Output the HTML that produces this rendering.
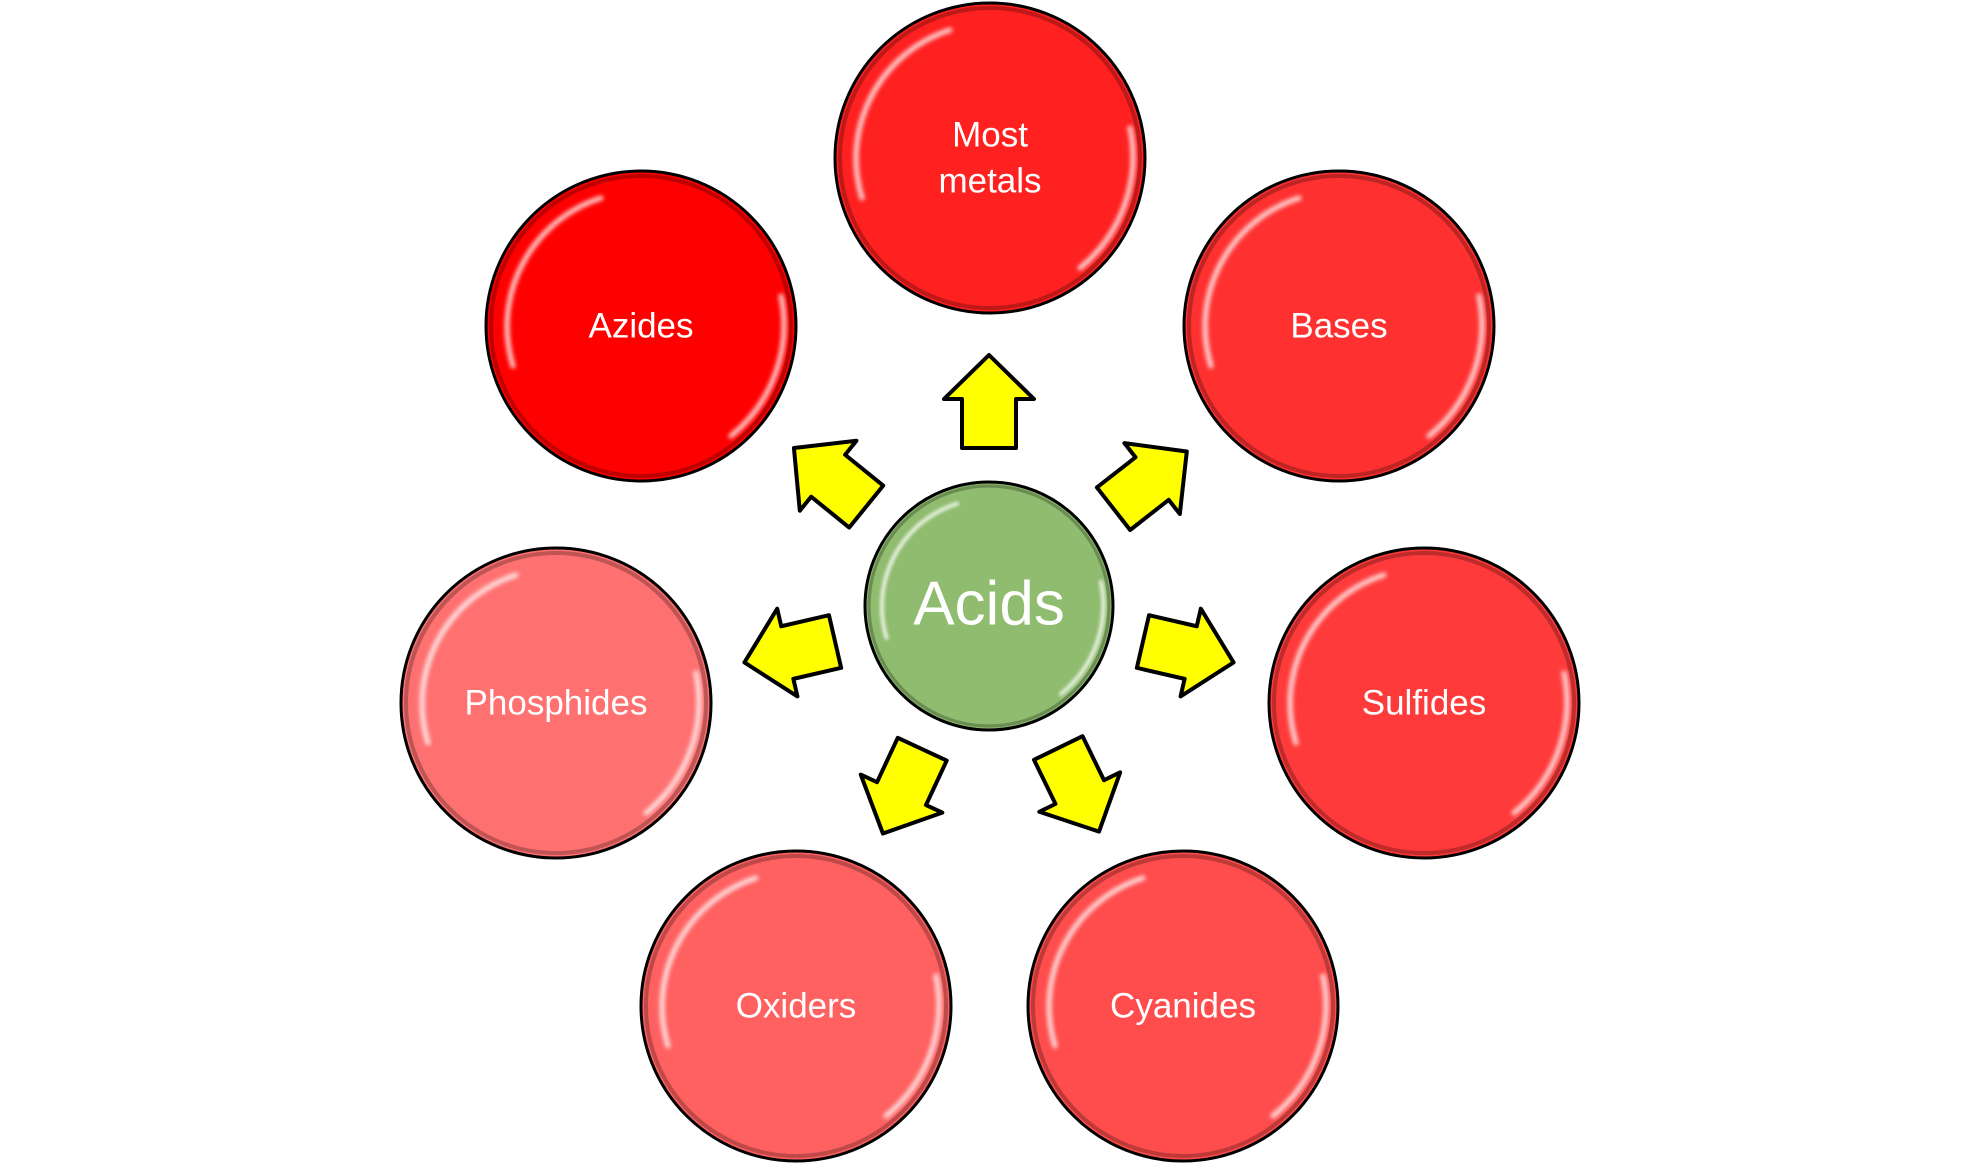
<!DOCTYPE html>
<html><head><meta charset="utf-8"><style>
html,body{margin:0;padding:0;background:#fff;}
svg{display:block;}
text{font-family:"Liberation Sans",sans-serif;fill:#fff;text-anchor:middle;dominant-baseline:central;}
</style></head><body>
<svg width="1980" height="1165" viewBox="0 0 1980 1165" xmlns="http://www.w3.org/2000/svg">
<defs>
<filter id="bl" x="-20%" y="-20%" width="140%" height="140%"><feGaussianBlur stdDeviation="2"/></filter>
<g id="hl">
<path d="M -128 40 A 135 135 0 0 1 -40 -128" fill="none" stroke="#fff" stroke-width="5" stroke-linecap="round" opacity="0.8" filter="url(#bl)"/>
<path d="M 140 -30 A 143 143 0 0 1 90 110" fill="none" stroke="#fff" stroke-width="5" stroke-linecap="round" opacity="0.8" filter="url(#bl)"/>
<circle r="150" fill="none" stroke="#000" stroke-opacity="0.25" stroke-width="4"/>
</g>
<path id="arr" d="M0 -251 L45 -207 L27 -207 L27 -158 L-27 -158 L-27 -207 L-45 -207 Z" fill="#ffff00" stroke="#000" stroke-width="4" stroke-linejoin="round"/>
</defs>

<g transform="translate(989,606)">
<use href="#arr"/>
<use href="#arr" transform="rotate(52)"/>
<use href="#arr" transform="rotate(103)"/>
<use href="#arr" transform="rotate(154)"/>
<use href="#arr" transform="rotate(-155)"/>
<use href="#arr" transform="rotate(-103)"/>
<use href="#arr" transform="rotate(-51)"/>
</g>

<g transform="translate(990,158)"><circle r="155" fill="#ff2020" stroke="#000" stroke-width="3"/><use href="#hl"/>
<text y="-23" font-size="35">Most</text><text y="23" font-size="35">metals</text></g>
<g transform="translate(641,326)"><circle r="155" fill="#ff0000" stroke="#000" stroke-width="3"/><use href="#hl"/><text font-size="35">Azides</text></g>
<g transform="translate(1339,326)"><circle r="155" fill="#ff3030" stroke="#000" stroke-width="3"/><use href="#hl"/><text font-size="35">Bases</text></g>
<g transform="translate(556,703)"><circle r="155" fill="#ff7070" stroke="#000" stroke-width="3"/><use href="#hl"/><text font-size="35">Phosphides</text></g>
<g transform="translate(1424,703)"><circle r="155" fill="#ff3a3a" stroke="#000" stroke-width="3"/><use href="#hl"/><text font-size="35">Sulfides</text></g>
<g transform="translate(796,1006)"><circle r="155" fill="#ff6060" stroke="#000" stroke-width="3"/><use href="#hl"/><text font-size="35">Oxiders</text></g>
<g transform="translate(1183,1006)"><circle r="155" fill="#ff4c4c" stroke="#000" stroke-width="3"/><use href="#hl"/><text font-size="35">Cyanides</text></g>

<g transform="translate(989,606)"><circle r="124" fill="#8fbc6e" stroke="#000" stroke-width="3"/>
<g transform="scale(0.8)"><use href="#hl"/></g>
<text y="-2" font-size="62">Acids</text></g>
</svg>
</body></html>
